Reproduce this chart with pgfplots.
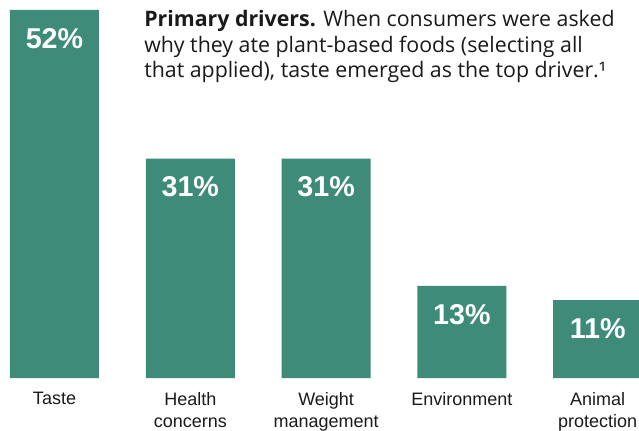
\documentclass[border=0pt]{standalone}
\usepackage{pgfplots}
\pgfplotsset{compat=1.18}
\usepackage{fontspec}
\setmainfont{Liberation Sans}
\newfontfamily\titlefont{Open Sans}
\definecolor{bargreen}{HTML}{3D8B78}
\definecolor{txt}{HTML}{1A1A1A}
\begin{document}
\begin{tikzpicture}
\begin{axis}[
  at={(0pt,39pt)}, anchor=south west,
  scale only axis, width=479.25pt, height=283.5pt,
  xmin=-0.4013, xmax=4.3041, ymin=0, ymax=53.41,
  axis line style={draw=none}, major tick length=0pt,
  ytick=\empty, xtick={0,1,2,3,4},
  xticklabels={Taste, {Health\\concerns}, {Weight\\management}, Environment, {Animal\\protection}},
  xticklabel style={align=center, anchor=north, inner sep=0pt, yshift=-10.5pt, text=txt, font=\fontsize{13.5}{16.5}\selectfont},
  ybar, bar width=66.75pt, bar shift=0pt,
  /pgf/number format/assume math mode=true,
  nodes near coords={\pgfmathprintnumber{\pgfplotspointmeta}\%},
  every node near coord/.append style={anchor=north, inner sep=0pt, yshift=-13.5pt, text=white, font=\fontsize{21.5}{24}\selectfont\bfseries},
  clip=true,
]
\addplot[fill=bargreen, draw=none] coordinates {(0,52) (1,31) (2,31) (3,13) (4,11)};
\end{axis}
\node[anchor=base west, inner sep=0pt, text=txt, font=\titlefont\fontsize{16}{19}\selectfont] at (108pt,303pt) {\textbf{Primary drivers.} When consumers were asked};
\node[anchor=base west, inner sep=0pt, text=txt, font=\titlefont\fontsize{16}{19}\selectfont] at (108pt,283.5pt) {why they ate plant-based foods (selecting all};
\node[anchor=base west, inner sep=0pt, text=txt, font=\titlefont\fontsize{16}{19}\selectfont] at (108pt,264.375pt) {that applied), taste emerged as the top driver.¹};
\pgfresetboundingbox
\path[use as bounding box] (0pt,0pt) rectangle (479.25pt,322.5pt);
\end{tikzpicture}
\end{document}
